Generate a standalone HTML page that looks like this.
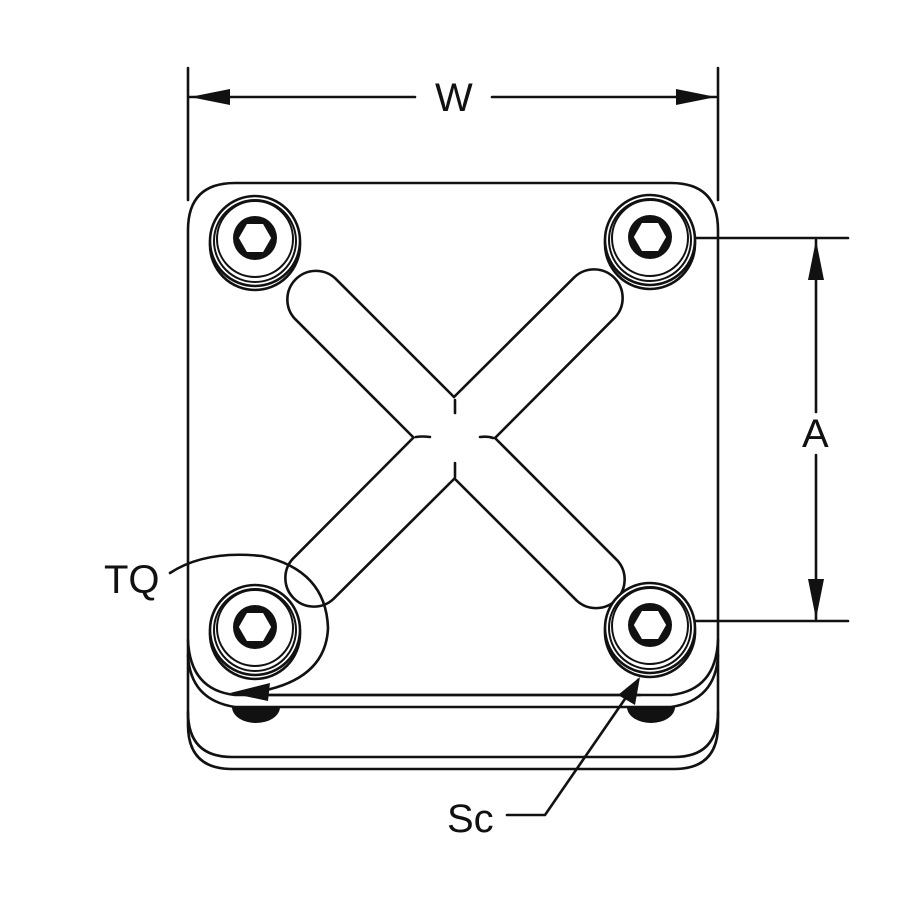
<!DOCTYPE html>
<html><head><meta charset="utf-8"><style>
html,body{margin:0;padding:0;background:#fff;}
svg{display:block;}
text{font-family:"Liberation Sans",sans-serif;font-size:40px;fill:#111;}
</style></head><body>
<svg width="900" height="900" viewBox="0 0 900 900" xmlns="http://www.w3.org/2000/svg">
<g fill="none" stroke="#111" stroke-width="2.6" stroke-linecap="round" stroke-linejoin="round">
<!-- dimension W -->
<line x1="188" y1="68" x2="188" y2="200"/>
<line x1="718" y1="68" x2="718" y2="200"/>
<line x1="190" y1="97" x2="415" y2="97"/>
<line x1="492" y1="97" x2="716" y2="97"/>
<!-- dimension A -->
<line x1="680" y1="238" x2="848" y2="238"/>
<line x1="680" y1="621" x2="848" y2="621"/>
<line x1="816" y1="240" x2="816" y2="412"/>
<line x1="816" y1="455" x2="816" y2="619"/>
<!-- plates -->
<path d="M188,230 Q188,183 235,183 L671,183 Q718,183 718,230 L718,725 Q718,769 674,769 L232,769 Q188,769 188,725 Z"/>
<path d="M188,712 Q188,757 232,757 L674,757 Q718,757 718,712"/>
<path d="M188,655 Q190,700 235,707 L671,707 Q716,700 718,655"/>
<path d="M188,640 Q190,690 235,695 L671,695 Q716,690 718,640"/>
<!-- slots -->
<path d="M454,397 L335.2,278.3 A28.6,28.6 0 0 0 294.8,318.7 L413.5,437.5"/>
<path d="M454,397 L574.8,276.8 A28.6,28.6 0 0 1 615.2,317.2 L495,438"/>
<path d="M413.5,437.5 L292.8,558.8 A28.6,28.6 0 0 0 333.2,599.2 L454.5,478.5"/>
<path d="M495,438 L617.2,560.3 A28.6,28.6 0 0 1 576.8,600.7 L454.5,478.5"/>
<line x1="455" y1="400" x2="455" y2="413"/>
<line x1="455" y1="463" x2="455" y2="477"/>
<path d="M416,437 Q422,436 430,437"/>
<path d="M480,437 Q488,436 493,438"/>
</g>
<!-- feet -->
<g fill="#111">
<path d="M232,707 A24,16 0 0 0 280,707 Z"/>
<path d="M627,707 A24,16 0 0 0 675,707 Z"/>
</g>
<!-- bolts -->
<defs>
<g id="bolt">
<circle cx="0" cy="4" r="45" fill="#fff" stroke="#111" stroke-width="2.6"/>
<circle cx="0" cy="0" r="45" fill="#fff" stroke="#111" stroke-width="2.6"/>
<circle cx="0" cy="0" r="41" fill="none" stroke="#111" stroke-width="2"/>
<circle cx="0" cy="-2" r="38" fill="none" stroke="#111" stroke-width="2"/>
<circle cx="0" cy="-3" r="22" fill="#111"/>
<polygon points="17,-3 8.5,-17.7 -8.5,-17.7 -17,-3 -8.5,11.7 8.5,11.7" fill="#fff" stroke="#111" stroke-width="1.5"/>
</g>
</defs>
<use href="#bolt" x="255" y="241"/>
<use href="#bolt" x="650" y="240"/>
<use href="#bolt" x="255" y="630"/>
<use href="#bolt" x="650" y="628"/>
<!-- TQ leader -->
<g fill="none" stroke="#111" stroke-width="2.6" stroke-linecap="round">
<path d="M170,573 Q205,550 262,556 Q326,570 328,628 Q326,678 262,691"/>
<path d="M507,815 L545,815 L638,680"/>
<line x1="262" y1="695" x2="640" y2="695"/>
</g>
<g fill="#111">
<polygon points="230,693 270,683 268,701"/>
<polygon points="640,677 618,695 635,705"/>
<polygon points="190,97 230,89 230,105"/>
<polygon points="716,97 676,89 676,105"/>
<polygon points="816,240 808,280 824,280"/>
<polygon points="816,619 808,579 824,579"/>
</g>
<text x="435" y="111">W</text>
<text x="802" y="447">A</text>
<text x="104" y="593">TQ</text>
<text x="447" y="832">Sc</text>
</svg>
</body></html>
